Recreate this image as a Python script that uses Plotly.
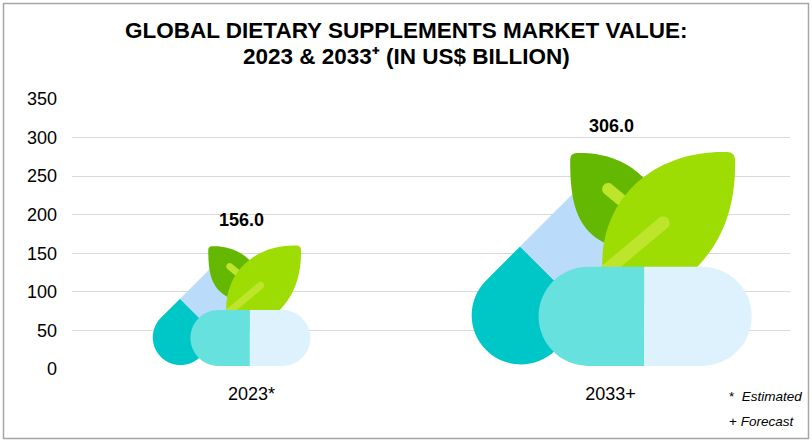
import math

import plotly.graph_objects as go

# ---------------------------------------------------------------
# data
# ---------------------------------------------------------------

YEARS = ["2023*", "2033+"]
MARKET_VALUE = [156.0, 306.0]
Y_TICKS = [0, 50, 100, 150, 200, 250, 300, 350]
FOOTNOTES = ["*  <i>Estimated</i>", "+ <i>Forecast</i>"]

TITLE_LINES = [
    "<b>GLOBAL DIETARY SUPPLEMENTS MARKET VALUE:</b>",
    "<b>2023 &amp; 2033\u207a (IN US$ BILLION)</b>",
]

# ---------------------------------------------------------------
# layout / style
# ---------------------------------------------------------------

WIDTH, HEIGHT = 812, 442
MARGIN = dict(l=72, r=22, t=99, b=73)
PLOT_W = WIDTH - MARGIN["l"] - MARGIN["r"]
PLOT_H = HEIGHT - MARGIN["t"] - MARGIN["b"]
Y_MAX = 350

PX_X = PLOT_W / 2       # pixels per category step
PX_Y = PLOT_H / Y_MAX   # pixels per value unit

FONT = "Liberation Sans, Arial, sans-serif"

COLORS = {
    "cyan": "#00C7C7",
    "blue": "#BBDBFB",
    "leaf_dark": "#65B801",
    "leaf_light": "#9EDD04",
    "vein": "#BDE52B",
    "pill_left": "#66E1DD",
    "pill_right": "#DDF2FD",
    "grid": "#D9D9D9",
    "border": "#A6A6A6",
}

# pictogram: template drawn in its own pixel units
ICON_H = 215.0
ICON_W = 280.7
ICON_BASE = 30.0        # icon height (value units) = base + slope * value
ICON_SLOPE = 0.812
ICON_BOTTOM = 4.0
ICON_NUDGE_PX = [-20, 1]


def paper_x(px):
    return (px - MARGIN["l"]) / PLOT_W


def paper_y(py):
    return (HEIGHT - MARGIN["b"] - py) / PLOT_H


# ---------------------------------------------------------------
# path helpers
# ---------------------------------------------------------------

def arc(cx, cy, rx, ry, a0, a1):
    """Elliptical arc as cubic bezier pieces (angles in degrees)."""
    n = max(1, math.ceil(abs(a1 - a0) / 90 - 1e-9))
    step = math.radians(a1 - a0) / n
    k = 4 / 3 * math.tan(step / 4)
    a = math.radians(a0)
    segs = []
    for _ in range(n):
        b = a + step
        p0 = (cx + rx * math.cos(a), cy + ry * math.sin(a))
        p1 = (cx + rx * math.cos(b), cy + ry * math.sin(b))
        c1 = (p0[0] - k * rx * math.sin(a), p0[1] + k * ry * math.cos(a))
        c2 = (p1[0] + k * rx * math.sin(b), p1[1] - k * ry * math.cos(b))
        segs.append(("C", [c1, c2, p1]))
        a = b
    return segs


def capsule(a, b, h, round_a=True, round_b=True):
    ang = math.degrees(math.atan2(b[1] - a[1], b[0] - a[0]))
    nx = -math.sin(math.radians(ang)) * h
    ny = math.cos(math.radians(ang)) * h
    cmds = [("M", [(a[0] + nx, a[1] + ny)]), ("L", [(b[0] + nx, b[1] + ny)])]
    if round_b:
        cmds += arc(b[0], b[1], h, h, ang + 90, ang - 90)
    else:
        cmds.append(("L", [(b[0] - nx, b[1] - ny)]))
    cmds.append(("L", [(a[0] - nx, a[1] - ny)]))
    if round_a:
        cmds += arc(a[0], a[1], h, h, ang - 90, ang - 270)
    cmds.append(("Z", []))
    return cmds


def icon_parts():
    """(color, commands) pairs, back to front, y pointing up."""

    parts = []

    # diagonal capsule
    c0, mid, c1, r = (49.7, 50.7), (83.7, 84.7), (134.0, 135.0), 49.3
    parts.append((COLORS["cyan"], capsule(c0, mid, r, True, False)))
    parts.append((COLORS["blue"], capsule(mid, c1, r, False, True)))

    # back leaf, rounded corner top-left, tip hidden behind front leaf
    dark = [
        ("M", [(99, 205)]),
        ("C", [(99, 211), (101, 213), (107, 213)]),
        ("C", [(145, 214), (195, 195), (205, 110)]),
        ("C", [(115, 112), (99, 140), (99, 205)]),
        ("Z", []),
    ]
    parts.append((COLORS["leaf_dark"], dark))
    parts.append((COLORS["vein"], capsule((137, 177), (160, 158), 6.0)))

    # front leaf, rounded corner top-right
    light = [
        ("M", [(264, 206)]),
        ("C", [(264, 211), (261, 214), (256, 214)]),
        ("C", [(190, 216), (131, 175), (131, 100)]),
        ("L", [(131, 45)]),
        ("C", [(205, 70), (266, 110), (264, 206)]),
        ("Z", []),
    ]
    parts.append((COLORS["leaf_light"], light))
    parts.append((COLORS["vein"], capsule((125, 87), (192, 143), 6.5)))

    # front capsule
    pr = 49.65
    parts.append((COLORS["pill_left"],
                  capsule((117, pr), (173, pr), pr, True, False)))
    parts.append((COLORS["pill_right"],
                  capsule((173, pr), (231, pr), pr, False, True)))

    return parts


def to_path(cmds, x0, y0, k):
    def pt(p):
        return f"{x0 + p[0] * k / PX_X:.5f},{y0 + p[1] * k / PX_Y:.4f}"

    return " ".join(op + " ".join(pt(p) for p in pts) for op, pts in cmds)


# ---------------------------------------------------------------
# figure
# ---------------------------------------------------------------

fig = go.Figure()

fig.add_trace(
    go.Scatter(
        x=list(range(len(YEARS))),
        y=MARKET_VALUE,
        mode="markers",
        marker=dict(size=1, opacity=0),
        showlegend=False,
        hoverinfo="skip",
    )
)

shapes = []
annotations = []
template = icon_parts()

for i, value in enumerate(MARKET_VALUE):

    height = ICON_BASE + ICON_SLOPE * value
    k = height * PX_Y / ICON_H
    x0 = i - ICON_W * k / PX_X / 2 + ICON_NUDGE_PX[i] / PX_X

    for color, cmds in template:
        shapes.append(
            dict(
                type="path",
                xref="x",
                yref="y",
                path=to_path(cmds, x0, ICON_BOTTOM, k),
                fillcolor=color,
                line=dict(width=0),
                layer="above",
            )
        )

    annotations.append(
        dict(
            x=i + ICON_NUDGE_PX[i] / 2 / PX_X,
            y=ICON_BOTTOM + height,
            xref="x",
            yref="y",
            text=f"<b>{value:.1f}</b>",
            showarrow=False,
            yanchor="middle",
            yshift=25,
            font=dict(size=18, color="#000000", family=FONT),
        )
    )

# title, two lines
for line, py in zip(TITLE_LINES, [30, 56]):
    annotations.append(
        dict(
            x=paper_x(WIDTH / 2),
            y=paper_y(py),
            xref="paper",
            yref="paper",
            text=line,
            showarrow=False,
            xanchor="center",
            yanchor="middle",
            borderpad=0,
            font=dict(size=22.5, color="#000000", family=FONT),
        )
    )

# footnotes
for note, py in zip(FOOTNOTES, [396, 421]):
    annotations.append(
        dict(
            x=paper_x(727),
            y=paper_y(py),
            xref="paper",
            yref="paper",
            text=note,
            showarrow=False,
            xanchor="left",
            yanchor="middle",
            font=dict(size=13.5, color="#000000", family=FONT),
        )
    )

# frame around the whole chart
shapes.append(
    dict(
        type="rect",
        xref="paper",
        yref="paper",
        x0=paper_x(3.5),
        x1=paper_x(808.5),
        y0=paper_y(438.5),
        y1=paper_y(3.5),
        line=dict(color=COLORS["border"], width=1.5),
        fillcolor="rgba(0,0,0,0)",
        layer="above",
    )
)

fig.update_layout(
    width=WIDTH,
    height=HEIGHT,
    margin=MARGIN,
    paper_bgcolor="#FFFFFF",
    plot_bgcolor="#FFFFFF",
    font=dict(family=FONT, color="#000000"),
    showlegend=False,
    shapes=shapes,
    annotations=annotations,
)

fig.update_xaxes(
    range=[-0.5, 1.5],
    tickvals=list(range(len(YEARS))),
    ticktext=YEARS,
    showgrid=False,
    zeroline=False,
    showline=False,
    tickfont=dict(size=18, color="#000000"),
    ticklabelstandoff=12,
    fixedrange=True,
)

fig.update_yaxes(
    range=[0, Y_MAX],
    tickvals=Y_TICKS,
    showgrid=True,
    gridcolor=COLORS["grid"],
    gridwidth=1,
    zeroline=False,
    showline=False,
    tickfont=dict(size=18, color="#000000"),
    ticklabelstandoff=14,
    fixedrange=True,
)

fig.write_html(
    "out.html",
    config=dict(displayModeBar=False),
    post_script="document.body.style.margin='0px';"
                "document.body.style.overflow='hidden';",
)
